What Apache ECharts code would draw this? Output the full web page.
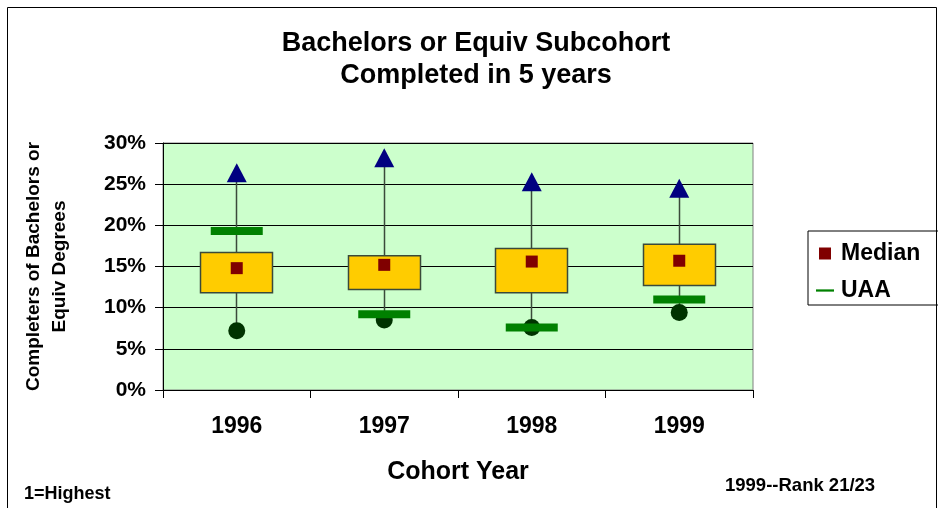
<!DOCTYPE html>
<html>
<head>
<meta charset="utf-8">
<script src="https://cdn.jsdelivr.net/npm/echarts@6/dist/echarts.min.js"></script>
<style>
  html, body { margin: 0; padding: 0; background: #fff; }
  #chart { width: 938px; height: 508px; }
</style>
</head>
<body>
<div id="chart"></div>
<script>
// Cohort years on the category axis
const years = ['1996', '1997', '1998', '1999'];
// Peer distribution (percent): lowest, lower quartile, median, upper quartile, highest
const lowest = [7.2, 8.5, 7.6, 9.4];
const lowerQuartile = [11.8, 12.2, 11.8, 12.7];
const median = [14.8, 15.2, 15.6, 15.7];
const upperQuartile = [16.7, 16.3, 17.2, 17.7];
const highest = [26.4, 28.2, 25.3, 24.5];
// Institution value (UAA)
const uaa = [19.3, 9.2, 7.6, 11.0];
// Y axis ticks
const yMin = 0, yMax = 30, yStep = 5;

const FONT = '"Liberation Sans", Arial, sans-serif';

const chart = echarts.init(document.getElementById('chart'), null, { renderer: 'canvas' });

const boxData = years.map((_, i) => [lowerQuartile[i], upperQuartile[i], lowest[i], highest[i]]);

chart.setOption({
  animation: false,
  backgroundColor: '#ffffff',
  textStyle: { fontFamily: FONT },
  title: {
    text: 'Bachelors or Equiv Subcohort\nCompleted in 5 years',
    left: 471,
    textAlign: 'center',
    top: 23,
    textStyle: { fontFamily: FONT, fontSize: 27, fontWeight: 'bold', color: '#000', lineHeight: 32 }
  },
  legend: {
    orient: 'vertical',
    left: 808,
    top: 231,
    padding: [11, 40, 3, 8],
    borderColor: '#000',
    borderWidth: 1,
    itemWidth: 18,
    itemHeight: 12,
    itemGap: 14,
    symbolKeepAspect: true,
    textStyle: { fontFamily: FONT, fontSize: 23, fontWeight: 'bold', color: '#000', padding: [0, 0, 0, 2] },
    data: [
      { name: 'Median', icon: 'path://M0,0H10V10H0Z' },
      { name: 'UAA', icon: 'path://M0,0H24V3H0Z' }
    ]
  },
  grid: {
    left: 163,
    right: 185,
    top: 143,
    bottom: 118,
    show: true,
    backgroundColor: '#CCFFCC',
    borderColor: '#808080',
    borderWidth: 1
  },
  xAxis: {
    type: 'category',
    data: years,
    boundaryGap: true,
    name: 'Cohort Year',
    nameLocation: 'middle',
    nameGap: 70,
    nameTextStyle: { fontFamily: FONT, fontSize: 25, fontWeight: 'bold', color: '#000' },
    axisLine: { show: true, lineStyle: { color: '#000', width: 1 } },
    axisTick: { show: true, length: 8, lineStyle: { color: '#000' } },
    axisLabel: { margin: 25, fontFamily: FONT, fontSize: 23, fontWeight: 'bold', color: '#000' },
    splitLine: { show: false }
  },
  yAxis: {
    type: 'value',
    min: yMin,
    max: yMax,
    interval: yStep,
    name: 'Completers of Bachelors or\nEquiv Degrees',
    nameLocation: 'middle',
    nameGap: 90,
    nameTextStyle: { fontFamily: FONT, fontSize: 19, fontWeight: 'bold', color: '#000', lineHeight: 26 },
    axisLine: { show: true, lineStyle: { color: '#000', width: 1 } },
    axisTick: { show: true, inside: false, length: 8, lineStyle: { color: '#000' } },
    axisLabel: { margin: 17, formatter: '{value}%', fontFamily: FONT, fontSize: 21, fontWeight: 'bold', color: '#000' },
    splitLine: { show: true, lineStyle: { color: '#000', width: 1 } }
  },
  series: [
    {
      name: 'Range',
      type: 'candlestick',
      data: boxData,
      barWidth: '49%',
      itemStyle: {
        color: '#FFCC00',
        color0: '#FFCC00',
        borderColor: '#3a4a3a',
        borderColor0: '#3a4a3a',
        borderWidth: 1.5,
        opacity: 1
      },
      z: 2
    },
    {
      name: 'Highest',
      type: 'scatter',
      data: highest,
      symbol: 'triangle',
      symbolSize: [20, 19],
      itemStyle: { color: '#000080', opacity: 1 },
      z: 4
    },
    {
      name: 'Lowest',
      type: 'scatter',
      data: lowest,
      symbol: 'circle',
      symbolSize: 17,
      itemStyle: { color: '#003300', opacity: 1 },
      z: 4
    },
    {
      name: 'UAA',
      type: 'scatter',
      data: uaa,
      symbol: 'rect',
      symbolSize: [52, 8],
      itemStyle: { color: '#008000', opacity: 1 },
      z: 5
    },
    {
      name: 'Median',
      type: 'scatter',
      data: median,
      symbol: 'rect',
      symbolSize: 12,
      itemStyle: { color: '#800000', opacity: 1 },
      z: 6
    }
  ],
  graphic: [
    {
      type: 'rect',
      shape: { x: 7.5, y: 7.5, width: 929, height: 520 },
      style: { fill: 'none', stroke: '#000', lineWidth: 1 },
      silent: true
    },
    {
      type: 'text',
      left: 24,
      top: 485,
      style: { text: '1=Highest', font: 'bold 18px ' + FONT, fill: '#000' }
    },
    {
      type: 'text',
      left: 725,
      top: 476,
      style: { text: '1999--Rank 21/23', font: 'bold 18.5px ' + FONT, fill: '#000' }
    }
  ]
});
</script>
</body>
</html>
